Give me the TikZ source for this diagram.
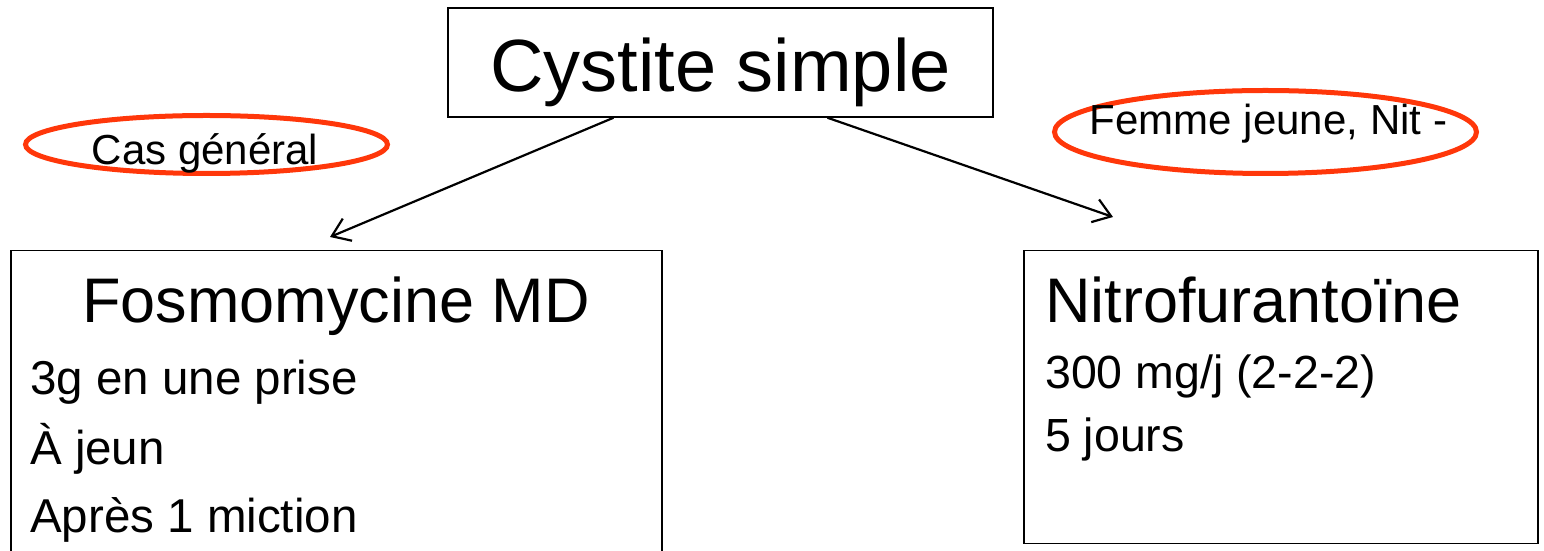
\documentclass[tikz,border=0pt]{standalone}
\usepackage{fontspec}
\setmainfont{Liberation Sans}
\usetikzlibrary{shapes.geometric, arrows.meta, positioning}
\definecolor{tagred}{RGB}{255,55,10}

\begin{document}
\begin{tikzpicture}[
    x=1pt, y=1pt,
    titlebox/.style={rectangle, draw, line width=1.5pt, minimum width=545pt, minimum height=109pt, inner sep=0pt, text height=59pt, text depth=0pt, font=\fontsize{74}{80}\selectfont},
    drugbox/.style={rectangle, draw, line width=1.5pt, inner sep=0pt, anchor=north west},
    drugname/.style={font=\fontsize{63}{70}\selectfont, inner sep=0pt},
    dose/.style={font=\fontsize{46.5}{52}\selectfont, inner sep=0pt, anchor=base west},
    tag/.style={ellipse, draw=tagred, line width=5pt, inner sep=0pt},
    tagtext/.style={font=\fontsize{42}{48}\selectfont, inner sep=0pt, anchor=base},
    arrow/.style={-{Straight Barb[length=17pt, width=24pt]}, line width=2.2pt}
]
\useasboundingbox (0,0) rectangle (1544,551);
\clip (0,0) rectangle (1544,551);

% titre
\node[titlebox] (cystite) at (720.5,488.5) {Cystite simple};

% cas general
\node[tag, minimum width=362pt, minimum height=58pt] (casgen) at (206.5,406.5) {};
\node[tagtext] (casgentext) at (205,386) {Cas général};
\node[drugbox, minimum width=651pt, minimum height=330pt] (fosfo) at (10,301) {};
\node[drugname, anchor=base] (fosfoname) at (fosfo.north |- 0,228) {Fosmomycine MD};
\node[dose, font=\fontsize{47.5}{52}\selectfont] (fosfodose) at (30,156) {3g en une prise};
\node[dose, font=\fontsize{47.5}{52}\selectfont] (fosfojeun) at (30,86) {À jeun};
\node[dose, font=\fontsize{47.5}{52}\selectfont] (fosfomic) at (30,18) {Après 1 miction};

% femme jeune
\node[tag, minimum width=422pt, minimum height=83pt] (femme) at (1265.5,419) {};
\node[tagtext] (femmetext) at (1268.5,416) {Femme jeune, Nit -};
\node[drugbox, minimum width=514pt, minimum height=293pt] (nitro) at (1023,301) {};
\node[drugname, anchor=base west] (nitroname) at (1045,228) {Nitrofurantoïne};
\node[dose] (nitrodose) at (1045,162) {300 mg/j (2-2-2)};
\node[dose] (nitrodays) at (1045,99) {5 jours};

\coordinate (fosfoin) at (330,314);
\coordinate (nitroin) at (1113,334);
\draw[arrow] ([xshift=-107pt]cystite.south) -- (fosfoin);
\draw[arrow] ([xshift=107pt]cystite.south) -- (nitroin);

\end{tikzpicture}
\end{document}
